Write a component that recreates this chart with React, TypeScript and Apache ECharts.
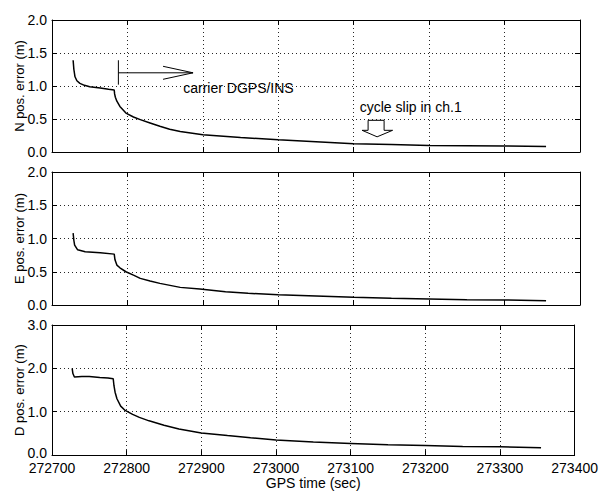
import React, { useEffect, useRef } from "react";
import * as echarts from "echarts";

// GPS time (sec) and position error (m) for the north, east and down channels
const nTime = [272728, 272729, 272730.5, 272733, 272737, 272743, 272750, 272764, 272775, 272782.5, 272783, 272784, 272786, 272790, 272798, 272808, 272817, 272830, 272843, 272856, 272870, 272900, 272950, 273000, 273050, 273100, 273150, 273200, 273250, 273300, 273355];
const nError = [1.39, 1.25, 1.14, 1.08, 1.04, 1.01, 0.99, 0.97, 0.95, 0.94, 0.88, 0.83, 0.77, 0.69, 0.59, 0.53, 0.49, 0.44, 0.39, 0.345, 0.31, 0.26, 0.22, 0.185, 0.155, 0.125, 0.115, 0.1, 0.095, 0.09, 0.085];

const eTime = [272728, 272729, 272730, 272734, 272744, 272764, 272782.5, 272783.5, 272786, 272790, 272798, 272808, 272817, 272830, 272843, 272870, 272896, 272930, 272960, 273000, 273050, 273100, 273150, 273200, 273250, 273300, 273355];
const eError = [1.08, 0.97, 0.9, 0.83, 0.8, 0.785, 0.765, 0.68, 0.6, 0.56, 0.5, 0.45, 0.4, 0.36, 0.325, 0.265, 0.24, 0.2, 0.175, 0.155, 0.135, 0.115, 0.1, 0.09, 0.08, 0.075, 0.065];

const dTime = [272727, 272728, 272730, 272740, 272750, 272764, 272775, 272782, 272783, 272784.5, 272787, 272792, 272798, 272808, 272817, 272830, 272850, 272870, 272900, 272935, 272966, 273000, 273050, 273100, 273150, 273200, 273250, 273300, 273355];
const dError = [2.0, 1.88, 1.8, 1.81, 1.81, 1.79, 1.78, 1.76, 1.6, 1.45, 1.3, 1.13, 1.03, 0.94, 0.87, 0.79, 0.69, 0.6, 0.51, 0.45, 0.4, 0.35, 0.3, 0.27, 0.24, 0.22, 0.2, 0.19, 0.17];

const axisNames = ["N pos. error (m)", "E pos. error (m)", "D pos. error (m)"];
const yMax = [2, 2, 3];
const yStep = [0.5, 0.5, 1];
const timeMin = 272700;
const timeMax = 273400;
const timeStep = 100;

// Annotations in data coordinates of the north panel
const carrierStart = 272788;
const carrierBar = [1.02, 1.39];
const carrierArrowTip = [272887, 1.2];
const carrierLabel = [272874, 0.97];
const slipLabel = [273108, 0.68];
const slipArrowTip = [273131, 0.23];

const FONT = '"Liberation Sans", Arial, Helvetica, sans-serif';
const grids = [
  { left: 52, top: 20, width: 528, height: 132 },
  { left: 52, top: 172, width: 528, height: 133 },
  { left: 52, top: 325, width: 528, height: 131 },
];

const zip = (t: number[], v: number[]) => t.map((x, i) => [x, v[i]]);
const seriesData = [zip(nTime, nError), zip(eTime, eError), zip(dTime, dError)];

export default function App() {
  const ref = useRef<HTMLDivElement>(null);

  useEffect(() => {
    if (!ref.current) return;
    const chart = echarts.init(ref.current, null, { renderer: "svg" });
    const black = "#000";
    const frameLine = { show: true, onZero: false, lineStyle: { color: black, width: 1 } };
    const tick = { show: true, inside: true, length: 5, lineStyle: { color: black, width: 1 } };
    const dotted = { show: true, lineStyle: { color: black, width: 1, type: [1, 3] as any, opacity: 0.85 } };

    const xAxes: any[] = [];
    const yAxes: any[] = [];
    for (let i = 0; i < 3; i++) {
      xAxes.push({
        type: "value", gridIndex: i, position: "bottom",
        min: timeMin, max: timeMax, interval: timeStep,
        axisLine: frameLine, axisTick: tick, splitLine: dotted,
        axisLabel: {
          show: i === 2, color: black, fontFamily: FONT, fontSize: 14, margin: 6, lineHeight: 14,
          formatter: (v: number) => String(v),
        },
        name: i === 2 ? "GPS time (sec)" : "",
        nameLocation: "middle", nameGap: 20,
        nameTextStyle: { color: black, fontFamily: FONT, fontSize: 14 },
      });
    }
    for (let i = 0; i < 3; i++) {
      xAxes.push({
        type: "value", gridIndex: i, position: "top",
        min: timeMin, max: timeMax, interval: timeStep,
        axisLine: frameLine, axisTick: tick, splitLine: { show: false },
        axisLabel: { show: false },
      });
    }
    for (let i = 0; i < 3; i++) {
      yAxes.push({
        type: "value", gridIndex: i, position: "left",
        min: 0, max: yMax[i], interval: yStep[i],
        axisLine: frameLine, axisTick: tick, splitLine: dotted,
        axisLabel: {
          color: black, fontFamily: FONT, fontSize: 14, margin: 5, lineHeight: 10,
          // the bottom panel's zero sits a little higher to clear the time labels
          formatter: (v: number) => (i === 2 && v === 0 ? "{lift|0.0}" : v.toFixed(1)),
          rich: {
            lift: { fontFamily: FONT, fontSize: 14, color: black, lineHeight: 10, padding: [0, 0, 5, 0] },
          },
        },
        name: axisNames[i], nameLocation: "middle", nameGap: 26,
        nameMoveOverlap: false,
        nameTextStyle: { color: black, fontFamily: FONT, fontSize: 13 },
      });
    }
    for (let i = 0; i < 3; i++) {
      yAxes.push({
        type: "value", gridIndex: i, position: "right",
        min: 0, max: yMax[i], interval: yStep[i],
        axisLine: frameLine, axisTick: tick, splitLine: { show: false },
        axisLabel: { show: false },
      });
    }

    chart.setOption({
      animation: false,
      backgroundColor: "#fff",
      grid: grids,
      xAxis: xAxes,
      yAxis: yAxes,
      series: seriesData.map((d, i) => ({
        type: "line", xAxisIndex: i, yAxisIndex: i, data: d,
        showSymbol: false, symbol: "none",
        lineStyle: { color: black, width: 1.5 },
        z: 5,
      })),
    });

    const px = (p: number[]) => chart.convertToPixel({ xAxisIndex: 0, yAxisIndex: 0 }, p) as number[];
    const barLo = px([carrierStart, carrierBar[0]]);
    const barHi = px([carrierStart, carrierBar[1]]);
    const tip = px(carrierArrowTip);
    const cLab = px(carrierLabel);
    const sLab = px(slipLabel);
    const sTip = px(slipArrowTip);
    const stroke = { stroke: black, lineWidth: 1, fill: "none" };

    chart.setOption({
      graphic: [
        { type: "line", shape: { x1: barLo[0], y1: barLo[1], x2: barHi[0], y2: barHi[1] }, style: stroke, z: 10 },
        { type: "line", shape: { x1: barLo[0], y1: tip[1], x2: tip[0], y2: tip[1] }, style: stroke, z: 10 },
        {
          type: "polyline",
          shape: { points: [[tip[0] - 30, tip[1] - 6.5], [tip[0], tip[1]], [tip[0] - 30, tip[1] + 6.5]] },
          style: stroke, z: 10,
        },
        {
          type: "text", x: cLab[0], y: cLab[1], z: 10,
          style: { text: "carrier DGPS/INS", fill: black, font: `14px ${FONT}`, align: "left", verticalAlign: "middle" },
        },
        {
          type: "text", x: sLab[0], y: sLab[1], z: 10,
          style: { text: "cycle slip in ch.1", fill: black, font: `14px ${FONT}`, align: "left", verticalAlign: "middle" },
        },
        {
          type: "polygon", z: 10,
          shape: {
            points: [
              [sTip[0] - 9, sTip[1] - 16.5],
              [sTip[0] + 7, sTip[1] - 16.5],
              [sTip[0] + 7, sTip[1] - 6.5],
              [sTip[0] + 15.5, sTip[1] - 6.5],
              [sTip[0], sTip[1]],
              [sTip[0] - 15, sTip[1] - 6.5],
              [sTip[0] - 9, sTip[1] - 6.5],
            ],
          },
          style: { stroke: black, lineWidth: 1, fill: "#fff" },
        },
      ],
    });

    return () => chart.dispose();
  }, []);

  return (
    <div
      ref={ref}
      style={{ position: "fixed", left: 0, top: 0, width: 601, height: 491, background: "#fff" }}
    />
  );
}
